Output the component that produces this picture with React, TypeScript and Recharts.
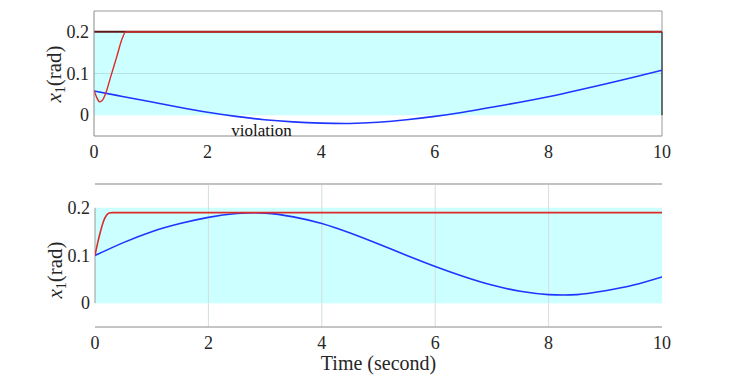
import React from 'react';
import { LineChart, Line, XAxis, YAxis, ReferenceArea, ReferenceLine, ReferenceDot } from 'recharts';

// time ticks and value ticks
const xTicks = [0, 2, 4, 6, 8, 10];
const yTicks = [0, 0.1, 0.2];

// top panel: red (safe controller) and blue (violating) trajectories
const topRedT = [0, 0.05, 0.1, 0.15, 0.2, 0.3, 0.4, 0.5, 0.56, 1, 10];
const topRedX = [0.06, 0.042, 0.032, 0.036, 0.05, 0.095, 0.14, 0.185, 0.2, 0.2, 0.2];
const topBlueT = [0, 0.5, 1, 1.5, 2, 2.5, 3, 3.5, 4, 4.5, 5, 5.5, 6, 6.5, 7, 7.5, 8, 8.5, 9, 9.5, 10];
const topBlueX = [0.058, 0.045, 0.032, 0.019, 0.007, -0.003, -0.011, -0.016, -0.019, -0.02, -0.017, -0.011, -0.003, 0.007, 0.019, 0.031, 0.044, 0.059, 0.075, 0.091, 0.108];

// bottom panel
const botRedT = [0, 0.05, 0.1, 0.15, 0.2, 0.25, 0.3, 0.4, 1, 10];
const botRedX = [0.1, 0.128, 0.152, 0.172, 0.184, 0.189, 0.19, 0.19, 0.19, 0.19];
const botBlueT = [0, 0.5, 1, 1.5, 2, 2.5, 3, 3.5, 4, 4.5, 5, 5.5, 6, 6.5, 7, 7.5, 8, 8.5, 9, 9.5, 10];
const botBlueX = [0.1, 0.127, 0.15, 0.167, 0.18, 0.188, 0.189, 0.181, 0.167, 0.147, 0.124, 0.1, 0.077, 0.056, 0.038, 0.025, 0.018, 0.018, 0.026, 0.038, 0.055];

// safe set
const safeLow = 0;
const safeHigh = 0.2;
const annotation = { t: 2.95, x: -0.037, text: 'violation' };

const zip = (t: number[], v: number[]) => t.map((tt, i) => ({ t: tt, v: v[i] }));

const FONT = 'Liberation Serif';
const INK = '#262626';
const RED = '#dd2a2a';
const BLUE = '#1d35ff';

const fmt = (v: number) => (v === 0 ? '0' : String(v));

const XTick = (props: any) => {
  const { x, y, payload } = props;
  return (
    <text x={x} y={y + 22} textAnchor="middle" fontFamily={FONT} fontSize={18} fill={INK}>
      {payload.value}
    </text>
  );
};

const YTick = (props: any) => {
  const { x, y, payload } = props;
  return (
    <text x={x} y={y + 6} textAnchor="end" fontFamily={FONT} fontSize={18} fill={INK}>
      {fmt(payload.value)}
    </text>
  );
};

const NoteLabel = (props: any) => {
  const { viewBox } = props;
  const cx = viewBox.x + (viewBox.width || 0) / 2;
  const cy = viewBox.y + (viewBox.height || 0) / 2;
  return (
    <text x={cx} y={cy + 5} textAnchor="middle" fontFamily={FONT} fontSize={17} fill="#111">
      {annotation.text}
    </text>
  );
};

const YLabel = ({ x, y }: { x: number; y: number }) => (
  <text transform={`translate(${x},${y}) rotate(-90)`} textAnchor="middle" fontFamily={FONT} fontSize={21} fill={INK}>
    <tspan fontStyle="italic">x</tspan>
    <tspan fontSize={14} dy={4}>1</tspan>
    <tspan dy={-4}>(rad)</tspan>
  </text>
);

export default function App() {
  return (
    <div style={{ position: 'fixed', left: 0, top: 0, width: 732, height: 381, background: '#fff', fontFamily: FONT }}>
      <div style={{ position: 'absolute', left: 0, top: 0 }}>
        <LineChart width={732} height={172} margin={{ top: 11, right: 70, left: 0, bottom: 6 }}>
          <XAxis type="number" dataKey="t" domain={[0, 10]} ticks={xTicks} tickSize={0} tickMargin={0}
            stroke="#8a8a8a" tick={<XTick />} height={30} allowDataOverflow />
          <YAxis type="number" domain={[-0.05, 0.25]} ticks={yTicks} tickSize={0} tickMargin={5}
            stroke="#8a8a8a" tick={<YTick />} width={94} allowDataOverflow />
          <ReferenceArea x1={0} x2={10} y1={safeLow} y2={safeHigh} fill="#ccffff" fillOpacity={1} stroke="none" />
          <ReferenceLine y={0.1} stroke="#b5e3e3" />
          <ReferenceLine y={0.25} stroke="#9a9a9a" />
          <ReferenceLine x={10} stroke="#9a9a9a" />
          <ReferenceLine segment={[{ x: 10, y: safeLow }, { x: 10, y: safeHigh }]} stroke="#111" />
          <ReferenceLine y={safeHigh} stroke="#5a1818" strokeWidth={2} />
          <Line data={zip(topBlueT, topBlueX)} dataKey="v" type="natural" stroke={BLUE} strokeWidth={1.6} dot={false} isAnimationActive={false} />
          <Line data={zip(topRedT, topRedX)} dataKey="v" type="monotone" stroke={RED} strokeWidth={1.4} dot={false} isAnimationActive={false} />
          <ReferenceDot x={annotation.t} y={annotation.x} r={0} fill="none" stroke="none" label={<NoteLabel />} />
          <YLabel x={61} y={74} />
        </LineChart>
      </div>
      <div style={{ position: 'absolute', left: 0, top: 170 }}>
        <LineChart width={732} height={211} margin={{ top: 14, right: 70, left: 0, bottom: 4 }}>
          <XAxis type="number" dataKey="t" domain={[0, 10]} ticks={xTicks} tickSize={0} tickMargin={0}
            stroke="#8a8a8a" tick={<XTick />} height={50} allowDataOverflow
            label={{ value: 'Time (second)', position: 'insideBottom', offset: 7, fontSize: 20, fill: INK, fontFamily: FONT }} />
          <YAxis type="number" domain={[-0.05, 0.25]} ticks={yTicks} tickSize={0} tickMargin={5}
            axisLine={false} tick={<YTick />} width={95} allowDataOverflow />
          <ReferenceArea x1={0} x2={10} y1={safeLow} y2={safeHigh} fill="#ccffff" fillOpacity={1} stroke="none" />
          {xTicks.slice(1, -1).map((t) => (
            <ReferenceLine key={t} x={t} stroke="#d4dede" />
          ))}
          <ReferenceLine y={0.25} stroke="#c2c2c2" strokeWidth={2} />
          <ReferenceLine segment={[{ x: 0, y: safeLow }, { x: 0, y: safeHigh }]} stroke="#9a9a9a" />
          <Line data={zip(botBlueT, botBlueX)} dataKey="v" type="natural" stroke={BLUE} strokeWidth={1.6} dot={false} isAnimationActive={false} />
          <Line data={zip(botRedT, botRedX)} dataKey="v" type="monotone" stroke={RED} strokeWidth={1.6} dot={false} isAnimationActive={false} />
          <YLabel x={62} y={100} />
        </LineChart>
      </div>
    </div>
  );
}
